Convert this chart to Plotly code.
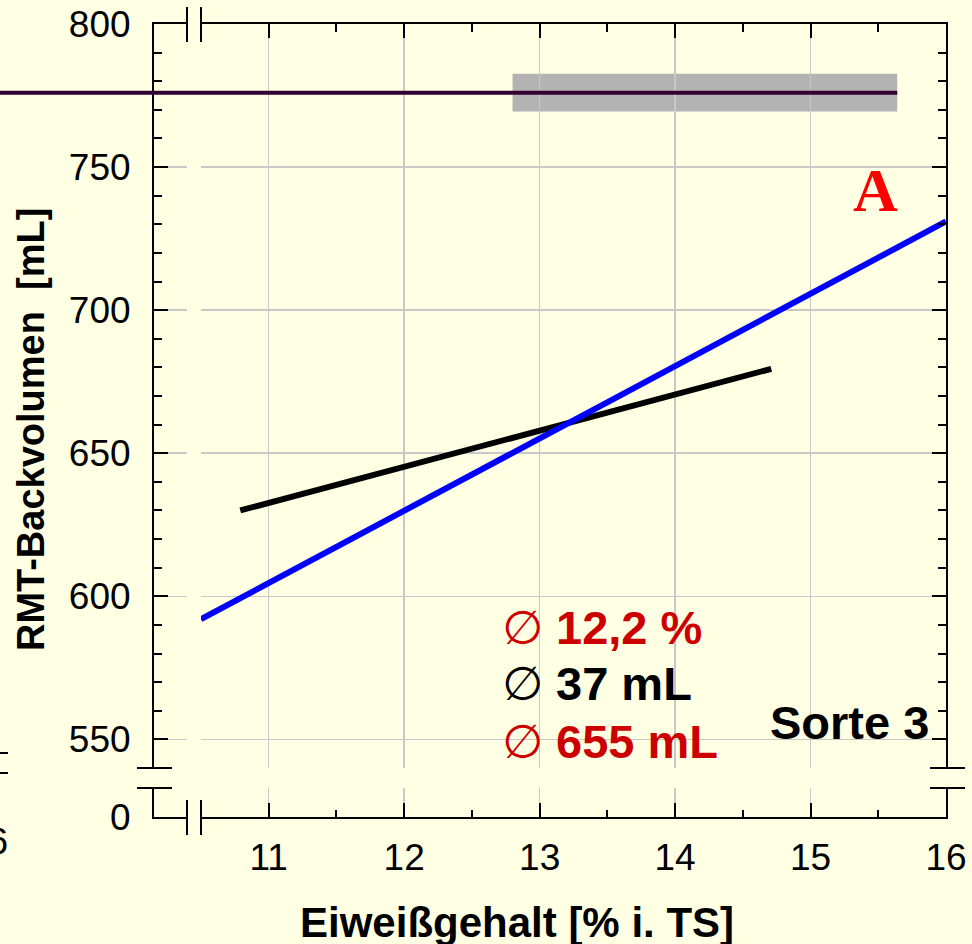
import plotly.graph_objects as go

# ---- data ----
blue_x = [10.5, 16.0]
blue_y = [592, 731]
black_x = [10.79, 14.71]
black_y = [630, 679.5]
mean_volume = 776
volume_sd = 6.6
protein_range = [12.8, 15.64]

x_range = [10.5, 16]
y_upper_range = [540, 800]
y_lower_range = [0, 10]
x_ticks = [11, 12, 13, 14, 15, 16]
y_ticks = [550, 600, 650, 700, 750, 800]

annot_lines = ["12,2 %", "37 mL", "655 mL"]
annot_colors = ["#CC0000", "#000000", "#CC0000"]

W, H = 972, 944
BG = "#FFFFE3"
FONT = "Liberation Sans, Arial, sans-serif"


def px(v):
    return v / W


def py(v):
    return 1 - v / H


XM = [px(201), px(946)]   # main x segment
XL = [px(154), px(187)]   # small left x segment
YU = [py(768), py(24)]    # upper y segment
YL = [py(817), py(788)]   # lower y segment

fig = go.Figure()
# empty traces so that every axis-segment pair becomes a drawn subplot
for xa, ya in [("x2", "y"), ("x2", "y2"), ("x", "y2"), ("x3", "y"),
               ("x4", "y"), ("x", "y3"), ("x", "y4")]:
    fig.add_trace(go.Scatter(x=[], y=[], xaxis=xa, yaxis=ya, mode="lines",
                             showlegend=False, hoverinfo="skip"))
fig.add_trace(go.Scatter(x=black_x, y=black_y, mode="lines",
                         line=dict(color="#000000", width=6),
                         xaxis="x", yaxis="y", showlegend=False, hoverinfo="skip"))
fig.add_trace(go.Scatter(x=blue_x, y=blue_y, mode="lines",
                         line=dict(color="#0000FF", width=6),
                         xaxis="x", yaxis="y", showlegend=False, hoverinfo="skip"))

axis_common = dict(showline=True, linecolor="black", linewidth=2, zeroline=False,
                   fixedrange=True, mirror=False, automargin=False)
major = dict(ticks="inside", ticklen=14, tickwidth=2, tickcolor="black")
TICKFONT = dict(size=37, family=FONT, color="black")

fig.update_layout(
    template="none",
    width=W, height=H, margin=dict(l=0, r=0, t=0, b=0, pad=0), autosize=False,
    paper_bgcolor=BG, plot_bgcolor=BG, showlegend=False,
    font=dict(family=FONT, color="black", size=36),
    xaxis=dict(domain=XM, range=x_range, anchor="y2", side="bottom",
               tickvals=x_ticks, tickfont=TICKFONT, ticklabelstandoff=7,
               showgrid=True, gridcolor="#C8C8C8", gridwidth=1.5,
               minor=dict(ticks="inside", ticklen=7, tickwidth=2, tickcolor="black",
                          dtick=0.5, tick0=0, showgrid=False),
               **major, **axis_common),
    xaxis2=dict(domain=XL, range=[0, 1], anchor="y2", side="bottom",
                ticks="", showticklabels=False, showgrid=False, **axis_common),
    xaxis3=dict(range=x_range, overlaying="x", anchor="y", side="top",
                tickvals=x_ticks, showticklabels=False, showgrid=False,
                minor=dict(ticks="inside", ticklen=8, tickwidth=2, tickcolor="black",
                           dtick=0.5, tick0=0, showgrid=False),
                **major, **axis_common),
    xaxis4=dict(range=[0, 1], overlaying="x2", anchor="y", side="top",
                ticks="", showticklabels=False, showgrid=False, **axis_common),
    yaxis=dict(domain=YU, range=y_upper_range, anchor="x2", side="left",
               tickvals=y_ticks, tickfont=TICKFONT, ticklabelstandoff=14,
               showgrid=True, gridcolor="#C8C8C8", gridwidth=1.5,
               minor=dict(ticks="inside", ticklen=8, tickwidth=2, tickcolor="black",
                          dtick=10, tick0=0, showgrid=False),
               **major, **axis_common),
    yaxis2=dict(domain=YL, range=y_lower_range, anchor="x2", side="left",
                tickvals=[0], ticks="", tickfont=TICKFONT, ticklabelstandoff=14,
                showgrid=False, **axis_common),
    yaxis3=dict(range=y_upper_range, overlaying="y", anchor="x", side="right",
                tickvals=y_ticks, showticklabels=False, showgrid=False,
                minor=dict(ticks="inside", ticklen=8, tickwidth=2, tickcolor="black",
                           dtick=10, tick0=0, showgrid=False),
                **major, **axis_common),
    yaxis4=dict(range=y_lower_range, overlaying="y2", anchor="x", side="right",
                ticks="", showticklabels=False, showgrid=False, **axis_common),
)

# ---- mean band and mean line ----
fig.add_shape(type="rect", xref="x", yref="y", layer="below",
              x0=protein_range[0], x1=protein_range[1],
              y0=mean_volume - volume_sd, y1=mean_volume + volume_sd,
              fillcolor="#B3B3B3", line=dict(width=0))
x_end_paper = XM[0] + (protein_range[1] - x_range[0]) / (x_range[1] - x_range[0]) * (XM[1] - XM[0])
fig.add_shape(type="line", xref="paper", yref="y", layer="above",
              x0=0, x1=x_end_paper, y0=mean_volume, y1=mean_volume,
              line=dict(color="#330033", width=4))

# ---- axis break marks ----
brk = dict(color="black", width=2)
for yv in (YU[0], YL[1]):
    fig.add_shape(type="line", xref="paper", yref="paper",
                  x0=XL[0] - px(17), x1=XL[0] + px(18), y0=yv, y1=yv, line=brk)
    fig.add_shape(type="line", xref="paper", yref="paper",
                  x0=XM[1] - px(16), x1=XM[1] + px(19), y0=yv, y1=yv, line=brk)
for xv in (XL[1], XM[0]):
    fig.add_shape(type="line", xref="paper", yref="paper",
                  x0=xv, x1=xv, y0=YU[1] + 17 / H, y1=YU[1] - 18 / H, line=brk)
    fig.add_shape(type="line", xref="paper", yref="paper",
                  x0=xv, x1=xv, y0=YL[0] + 17 / H, y1=YL[0] - 18 / H, line=brk)

# remnants of neighbouring panel at the left edge
for yy in (753, 773):
    fig.add_shape(type="line", xref="paper", yref="paper",
                  x0=0, x1=px(8), y0=py(yy), y1=py(yy), line=brk)

annotations = []
# neighbouring panel tick label (cropped)
annotations.append(dict(x=px(10), y=py(841), xref="paper", yref="paper",
                        xanchor="right", yanchor="middle", showarrow=False,
                        text="16", font=TICKFONT))
# statistics
ys = [627, 683, 741]
for t, c, yy in zip(annot_lines, annot_colors, ys):
    annotations.append(dict(
        x=px(500), y=py(yy), xref="paper", yref="paper", xanchor="left", yanchor="middle",
        showarrow=False,
        text='<span style="font-family:DejaVu Sans;font-weight:normal">\u2205</span> <b>' + t + "</b>",
        font=dict(size=47, family=FONT, color=c)))
annotations.append(dict(x=px(931), y=py(722), xref="paper", yref="paper",
                        xanchor="right", yanchor="middle", showarrow=False,
                        text="<b>Sorte 3</b>", font=dict(size=47, family=FONT, color="black")))
annotations.append(dict(x=px(875), y=py(190), xref="paper", yref="paper",
                        xanchor="center", yanchor="middle", showarrow=False,
                        text="<b>A</b>",
                        font=dict(size=62, family="Liberation Serif, Times New Roman, serif",
                                  color="#FF0000")))
# axis titles
annotations.append(dict(x=px(517), y=py(922), xref="paper", yref="paper",
                        xanchor="center", yanchor="middle", showarrow=False,
                        text="<b>Eiweißgehalt [% i. TS]</b>",
                        font=dict(size=42, family=FONT, color="black")))
annotations.append(dict(x=px(31), y=py(430), xref="paper", yref="paper",
                        xanchor="center", yanchor="middle", showarrow=False, textangle=-90,
                        text="<b>RMT-Backvolumen \u00a0[mL]</b>",
                        font=dict(size=38, family=FONT, color="black")))
fig.update_layout(annotations=annotations)

fig.write_html("out.html", config={"displayModeBar": False, "staticPlot": True},
               post_script="document.body.style.margin='0';document.body.style.overflow='hidden';")
